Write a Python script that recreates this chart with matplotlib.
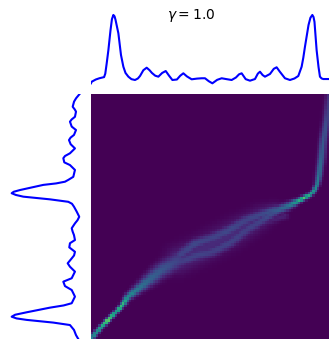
import numpy as np
import matplotlib
matplotlib.use('Agg')
import matplotlib.pyplot as plt

# top marginal: position (column index) and density
top_x = [-0.5, -0.2, 1.5, 3.0, 5.0, 5.5, 6.1, 6.8, 7.7, 8.3, 8.9, 9.4, 9.8, 11.0, 12.1, 13.1,
         14.0, 15.2, 16.5, 18.0, 19.2, 20.1, 21.5, 22.9, 24.1, 25.1, 26.5, 27.8, 29.4, 30.9,
         32.3, 33.7, 35.6, 37.0, 38.3, 39.8, 41.8, 44.0, 46.0, 47.4, 49.0, 50.5, 52.5, 54.4,
         56.5, 58.6, 60.4, 61.7, 62.8, 64.5, 66.3, 68.4, 69.6, 70.5, 71.6, 72.6, 74.7, 76.3,
         77.5, 78.8, 81.0, 83.1, 85.0, 86.6, 88.0, 88.7, 89.4, 90.9, 91.7, 92.5, 93.0, 93.4,
         94.3, 95.1, 95.7, 96.4, 97.1, 99.5]
top_y = [0.01, 0.033, 0.065, 0.083, 0.10, 0.15, 0.30, 0.49, 0.78, 0.94, 1.0, 0.98, 0.93, 0.735,
         0.42, 0.25, 0.16, 0.106, 0.07, 0.058, 0.08, 0.116, 0.2, 0.236, 0.2, 0.16, 0.12, 0.106,
         0.16, 0.188, 0.12, 0.058, 0.065, 0.12, 0.155, 0.11, 0.068, 0.078, 0.083, 0.083, 0.04,
         0.01, 0.06, 0.083, 0.07, 0.058, 0.094, 0.14, 0.155, 0.07, 0.048, 0.072, 0.15, 0.178,
         0.13, 0.106, 0.145, 0.22, 0.242, 0.18, 0.083, 0.058, 0.08, 0.116, 0.25, 0.38, 0.54,
         0.855, 0.96, 1.0, 0.97, 0.9, 0.49, 0.246, 0.106, 0.08, 0.072, 0.072]

# left marginal: position (row index) and density
left_y = [-0.5, 1.2, 2.6, 4.7, 5.8, 6.7, 8.8, 9.9, 10.8, 12.8, 14.2, 16.2, 17.3, 18.3, 20.0,
          21.7, 23.7, 24.8, 25.7, 27.4, 28.5, 30.5, 33.3, 34.5, 35.3, 36.0, 36.6, 38.7, 39.4,
          40.0, 40.7, 41.4, 42.5, 43.5, 44.3, 45.5, 47.5, 49.6, 51.0, 52.3, 54.3, 55.7, 57.1,
          59.1, 60.4, 62.1, 63.9, 65.4, 66.6, 68.6, 70.0, 72.0, 74.7, 76.1, 77.9, 79.5, 82.2,
          84.9, 85.8, 86.7, 88.6, 89.6, 90.4, 91.1, 91.7, 92.8, 93.8, 95.8, 97.9, 99.5]
left_x = [0.02, 0.07, 0.10, 0.12, 0.09, 0.072, 0.087, 0.135, 0.159, 0.134, 0.072, 0.101, 0.15,
          0.173, 0.149, 0.087, 0.159, 0.23, 0.255, 0.241, 0.159, 0.087, 0.111, 0.18, 0.231, 0.36,
          0.544, 0.88, 0.97, 1.0, 0.94, 0.833, 0.447, 0.183, 0.13, 0.101, 0.062, 0.025, 0.05,
          0.087, 0.134, 0.12, 0.101, 0.087, 0.159, 0.169, 0.087, 0.1, 0.134, 0.192, 0.159, 0.087,
          0.134, 0.255, 0.231, 0.134, 0.087, 0.134, 0.25, 0.447, 0.784, 0.95, 1.0, 0.93, 0.784,
          0.40, 0.159, 0.101, 0.072, 0.039]

# transport plan ridges: (col, row, width, intensity)
ridge_low = [(-0.3, 99.1, 0.7, 0.45), (3.3, 95.0, 0.6, 0.6), (6.8, 91.7, 0.6, 0.88),
             (9.6, 88.9, 0.6, 0.6), (12.1, 86.3, 0.6, 0.75), (15.0, 82.4, 0.9, 0.5),
             (19.2, 79.1, 1.2, 0.4), (23.4, 75.8, 1.6, 0.33), (29.3, 71.3, 2.0, 0.27),
             (36.1, 67.3, 2.5, 0.2)]
ridge_band = [(36.1, 67.3, 3.5, 0.12), (45.3, 63.2, 3.5, 0.12), (57.9, 57.0, 3.5, 0.12),
              (70.5, 50.1, 3.0, 0.12), (76.8, 47.3, 2.0, 0.15)]
ridge_upper = [(36.9, 65.2, 1.5, 0.2), (43.2, 60.7, 1.5, 0.22), (50.3, 58.3, 1.5, 0.2),
               (57.9, 55.0, 1.5, 0.22), (64.2, 51.3, 1.5, 0.2), (70.5, 48.9, 1.4, 0.22),
               (76.8, 46.8, 1.2, 0.27)]
ridge_lower = [(36.9, 68.1, 1.5, 0.19), (43.2, 65.6, 1.5, 0.2), (50.3, 64.0, 1.5, 0.19),
               (57.9, 60.3, 1.5, 0.2), (64.2, 55.4, 1.5, 0.19), (70.5, 51.7, 1.4, 0.2),
               (76.8, 47.7, 1.2, 0.25)]
ridge_tail = [(66.3, 54.2, 1.0, 0.09), (81.0, 49.3, 1.0, 0.09)]
ridge_high = [(76.8, 47.3, 1.2, 0.28), (82.3, 45.2, 1.0, 0.38), (86.5, 43.2, 0.7, 0.6),
              (88.7, 42.1, 0.6, 0.75), (91.5, 40.7, 0.6, 0.6), (93.2, 39.1, 0.6, 0.55),
              (94.5, 36.6, 0.7, 0.48), (95.3, 32.6, 0.9, 0.38), (96.4, 25.1, 1.0, 0.31),
              (97.1, 18.3, 1.0, 0.27), (98.5, 10.1, 1.0, 0.22), (99.3, 2.0, 1.0, 0.16),
              (99.7, -0.5, 1.0, 0.14)]

n = 100
cols, rows = np.meshgrid(np.arange(n), np.arange(n))


def ridge(nodes, steps=25):
    p = np.array(nodes, float)
    out = np.zeros((n, n))
    for a, b in zip(p[:-1], p[1:]):
        for t in np.linspace(0, 1, steps):
            c, r, s, h = a + t * (b - a)
            out = np.maximum(out, h * np.exp(-((cols - c)**2 + (rows - r)**2) / (2 * s**2)))
    return out


plan = np.zeros((n, n))
for nodes in [ridge_low, ridge_band, ridge_upper, ridge_lower, ridge_tail, ridge_high]:
    plan = np.maximum(plan, ridge(nodes))

W, H = 329, 339
fig = plt.figure(figsize=(W / 100, H / 100), dpi=100)

ax_top = fig.add_axes([91 / W, (H - 88) / H, 238 / W, 78 / H])
ax_top.plot(top_x, top_y, 'b', lw=1.5)
ax_top.set_xlim(-0.5, 99.5)
ax_top.set_ylim(-0.058, 1.072)
ax_top.axis('off')

ax_left = fig.add_axes([8 / W, 0, 75 / W, 245 / H])
ax_left.plot(left_x, left_y, 'b', lw=1.5)
ax_left.set_xlim(1.053, -0.029)
ax_left.set_ylim(99.5, -0.5)
ax_left.axis('off')

ax_mat = fig.add_axes([91 / W, 0, 238 / W, 245 / H])
ax_mat.imshow(plan, cmap='viridis', vmin=0, vmax=1, interpolation='nearest', aspect='auto')
ax_mat.axis('off')

fig.text(191.3 / W, 1 - 15.5 / H, r'$\gamma=1.0$', ha='center', va='center', fontsize=10)

fig.savefig('out.png', dpi=100)
